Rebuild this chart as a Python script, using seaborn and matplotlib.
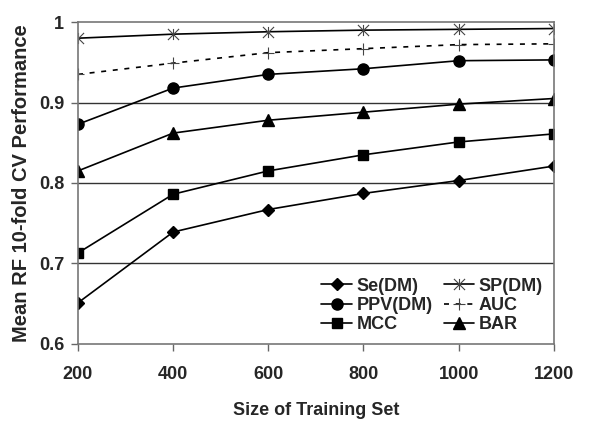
import matplotlib
matplotlib.use("Agg")
import matplotlib.pyplot as plt
from matplotlib.path import Path
import seaborn as sns
import pandas as pd

sizes = [200, 400, 600, 800, 1000, 1200]
se_dm = [0.651, 0.739, 0.767, 0.787, 0.803, 0.821]
sp_dm = [0.980, 0.985, 0.988, 0.990, 0.991, 0.992]
ppv_dm = [0.873, 0.918, 0.935, 0.942, 0.952, 0.953]
auc = [0.935, 0.949, 0.962, 0.967, 0.972, 0.973]
mcc = [0.713, 0.786, 0.815, 0.835, 0.851, 0.861]
bar = [0.815, 0.862, 0.878, 0.888, 0.898, 0.905]
y_ticks = [0.6, 0.7, 0.8, 0.9, 1.0]
y_tick_labels = ["0.6", "0.7", "0.8", "0.9", "1"]

star = Path([(-1, -1), (1, 1), (-1, 1), (1, -1), (0, -1), (0, 1)],
            [Path.MOVETO, Path.LINETO, Path.MOVETO, Path.LINETO, Path.MOVETO, Path.LINETO])

series = [
    ("Se(DM)", se_dm, "D", "-", 6),
    ("PPV(DM)", ppv_dm, "o", "-", 8),
    ("MCC", mcc, "s", "-", 7.5),
    ("SP(DM)", sp_dm, star, "-", 8),
    ("AUC", auc, "+", (0, (3, 4)), 9),
    ("BAR", bar, "^", "-", 8),
]

sns.set_style("white")
plt.rcParams["font.family"] = ["Liberation Sans", "DejaVu Sans"]
plt.rcParams["font.weight"] = "bold"

fig = plt.figure(figsize=(6, 4.25), dpi=100)
ax = fig.add_axes([0.13, 0.191, 0.793, 0.757])

for y in y_ticks[1:-1]:
    ax.axhline(y, color="#333333", lw=1.0, zorder=0)

for name, vals, mk, ls, ms in series:
    df = pd.DataFrame({"x": sizes, "y": vals})
    thin = name in ("SP(DM)", "AUC")
    sns.lineplot(data=df, x="x", y="y", ax=ax, color="black", lw=1.2,
                 linestyle=ls, marker=mk, markersize=ms,
                 markerfacecolor="none" if thin else "black",
                 markeredgecolor="#444444" if thin else "black",
                 markeredgewidth=0.8 if thin else 1.0,
                 label=name)

fs = 13
ax.set_xlim(200, 1200)
ax.set_ylim(0.6, 1.0)
ax.set_xticks(sizes)
ax.set_xticklabels([str(s) for s in sizes], fontsize=fs, fontweight="bold")
ax.set_yticks(y_ticks)
ax.set_yticklabels(y_tick_labels, fontsize=fs, fontweight="bold")
ax.tick_params(axis="both", direction="out", length=5, width=1, color="#666666",
               bottom=True, left=True, pad=5)
ax.tick_params(axis="x", pad=11)
for s in ax.spines.values():
    s.set_color("#777777")
    s.set_linewidth(1.2)

ax.set_xlabel("Size of Training Set", fontsize=fs, fontweight="bold", labelpad=14)
ax.set_ylabel("Mean RF 10-fold CV Performance", fontsize=14.5, fontweight="bold", labelpad=6)

ax.legend(ncol=2, loc="lower right", frameon=False, fontsize=fs,
          handlelength=1.7, handletextpad=0.25, columnspacing=0.6,
          labelspacing=0.12, borderaxespad=0.2, bbox_to_anchor=(1.0, 0.0))

fig.savefig("out.png", dpi=100)
